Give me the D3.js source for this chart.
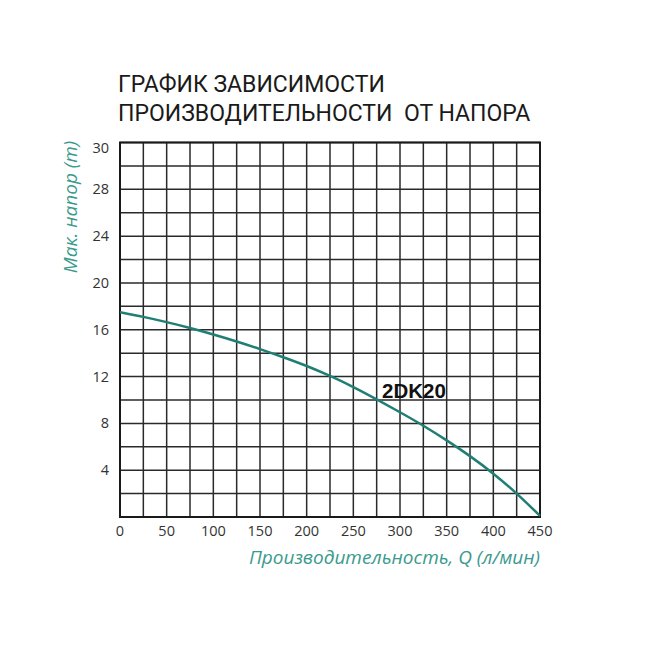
<!DOCTYPE html>
<html lang="ru">
<head>
<meta charset="utf-8" />
<title>График зависимости производительности от напора</title>
<style>
html, body {
	margin: 0;
	padding: 0;
	background: #fff;
}
svg {
	display: block;
}
.tick-label {
	font-family: "Open Sans", "Noto Sans", sans-serif;
	font-size: 14.5px;
	fill: #333;
}
.axis-title {
	font-family: "Open Sans", "Noto Sans", sans-serif;
	font-style: italic;
	font-size: 19px;
	fill: #3a9a8d;
}
.title {
	font-family: Roboto, "Noto Sans", sans-serif;
	font-size: 23px;
	font-weight: 400;
	fill: #1a1a1a;
	white-space: pre;
}
</style>
</head>
<body>
<svg width="650" height="650"></svg>

<script src="https://cdn.jsdelivr.net/npm/d3@7/dist/d3.min.js"></script>
<script>
// данные кривой (Q в л/мин, напор в м)
var flow = [0, 25, 50, 75, 100, 125, 150, 175, 200, 225, 250, 275, 300, 325, 350, 375, 400, 425, 450];
var head = [17.5, 17.1, 16.65, 16.15, 15.6, 15.0, 14.35, 13.65, 12.9, 12.05, 11.1, 10.05, 8.95, 7.8, 6.55, 5.2, 3.7, 2.0, 0.1];

// подписи осей
var xTicks = [0, 50, 100, 150, 200, 250, 300, 350, 400, 450];
var yTicks = [32, 28, 24, 20, 16, 12, 8, 4];
var yTickLabels = ["30", "28", "24", "20", "16", "12", "8", "4"];

var seriesName = "2DK20";
var titleLines = ["ГРАФИК ЗАВИСИМОСТИ", "ПРОИЗВОДИТЕЛЬНОСТИ  ОТ НАПОРА"];
var xTitle = "Производительность, Q (л/мин)";
var yTitle = "Мак. напор (m)";

var svg = d3.select("svg");

// границы поля графика
var plotL = 120, plotR = 540, plotT = 142.5, plotB = 517;

var x = d3.scaleLinear().domain([0, 450]).range([plotL, plotR]);
var y = d3.scaleLinear().domain([0, 32]).range([plotB, plotT]);

// сетка: шаг 25 по Q и 2 по напору
var g = svg.append("g");
g.selectAll("line.v")
	.data(d3.range(0, 451, 25))
	.enter().append("line")
	.attr("class", "v")
	.attr("x1", function(d){ return x(d); })
	.attr("x2", function(d){ return x(d); })
	.attr("y1", plotT)
	.attr("y2", plotB)
	.attr("stroke", "#2a2a2a")
	.attr("stroke-width", 1.5);

g.selectAll("line.h")
	.data(d3.range(0, 33, 2))
	.enter().append("line")
	.attr("class", "h")
	.attr("x1", plotL)
	.attr("x2", plotR)
	.attr("y1", function(d){ return y(d); })
	.attr("y2", function(d){ return y(d); })
	.attr("stroke", "#2a2a2a")
	.attr("stroke-width", 1.5);

g.append("rect")
	.attr("x", plotL)
	.attr("y", plotT)
	.attr("width", plotR - plotL)
	.attr("height", plotB - plotT)
	.attr("fill", "none")
	.attr("stroke", "#1a1a1a")
	.attr("stroke-width", 2);

// подписи по оси X
svg.selectAll("text.xt")
	.data(xTicks)
	.enter().append("text")
	.attr("class", "tick-label xt")
	.attr("x", function(d){ return x(d); })
	.attr("y", 536)
	.attr("text-anchor", "middle")
	.text(function(d){ return d; });

// подписи по оси Y
svg.selectAll("text.yt")
	.data(yTicks)
	.enter().append("text")
	.attr("class", "tick-label yt")
	.attr("x", 109)
	.attr("y", function(d, i){ return y(d) + (i === 0 ? 10 : 5); })
	.attr("text-anchor", "end")
	.text(function(d, i){ return yTickLabels[i]; });

// кривая
var line = d3.line()
	.x(function(d, i){ return x(flow[i]); })
	.y(function(d){ return y(d); })
	.curve(d3.curveNatural);

svg.append("path")
	.datum(head)
	.attr("d", line)
	.attr("fill", "none")
	.attr("stroke", "#1f7f74")
	.attr("stroke-width", 2.5);

svg.append("text")
	.attr("x", 382)
	.attr("y", 398)
	.attr("font-family", "'Liberation Sans', Arial, sans-serif")
	.attr("font-weight", "bold")
	.attr("font-size", 20.5)
	.attr("fill", "#111")
	.text(seriesName);

// заголовок
svg.selectAll("text.title")
	.data(titleLines)
	.enter().append("text")
	.attr("class", "title")
	.attr("x", 118)
	.attr("y", function(d, i){ return 92 + i * 29; })
	.text(function(d){ return d; });

// названия осей
svg.append("text")
	.attr("class", "axis-title")
	.attr("x", 540)
	.attr("y", 564)
	.attr("text-anchor", "end")
	.text(xTitle);

svg.append("text")
	.attr("class", "axis-title")
	.attr("transform", "translate(77,207) rotate(-90)")
	.attr("text-anchor", "middle")
	.text(yTitle);
</script>
</body>
</html>
